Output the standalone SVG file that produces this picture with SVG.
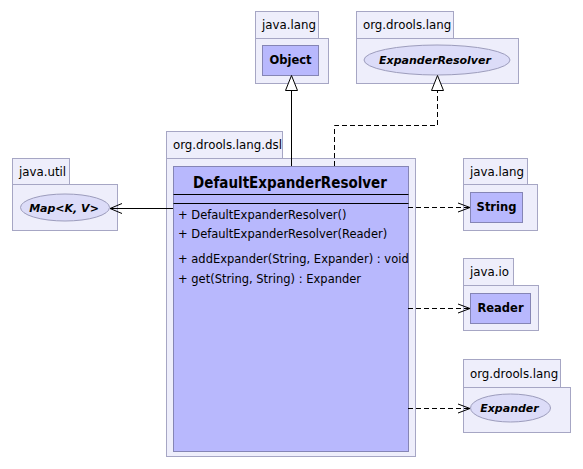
<svg xmlns="http://www.w3.org/2000/svg" width="583" height="469" viewBox="0 0 583 469">
<defs>
<style>
.pkg{fill:#eeeefb;stroke:#a6a6c4;stroke-width:1}
.cls{fill:#b8b8fd;stroke:#8585b5;stroke-width:1}
.ifc{fill:#dcdcf8;stroke:#9c9cbc;stroke-width:1}
.plabel{font-family:"DejaVu Sans",sans-serif;font-size:11.8px;fill:#000}
.cname{font-family:"DejaVu Sans",sans-serif;font-size:11.5px;font-weight:bold;fill:#000;text-anchor:middle}
.iname{font-family:"DejaVu Sans",sans-serif;font-size:11px;font-weight:bold;font-style:italic;fill:#000;text-anchor:middle}
.title{font-family:"DejaVu Sans",sans-serif;font-size:15px;font-stretch:condensed;font-weight:bold;fill:#000;text-anchor:middle}
.member{font-family:"DejaVu Sans",sans-serif;font-size:11.5px;fill:#000}
.line{fill:none;stroke:#000;stroke-width:1}
.dash{fill:none;stroke:#000;stroke-width:1;stroke-dasharray:5,3}
</style>
</defs>

<g id="pkg-java-lang-object">
<rect class="pkg" x="255.5" y="11.5" width="63" height="27"/>
<rect class="pkg" x="255.5" y="38.5" width="73" height="45"/>
<text class="plabel" x="262" y="29">java.lang</text>
</g>
<g id="Object">
<rect class="cls" x="262.5" y="45.5" width="56" height="30"/>
<text class="cname" x="290.5" y="64">Object</text>
</g>

<g id="pkg-org-drools-lang-resolver">
<rect class="pkg" x="356.5" y="11.5" width="97" height="27"/>
<rect class="pkg" x="356.5" y="38.5" width="162" height="45"/>
<text class="plabel" x="363" y="29">org.drools.lang</text>
</g>
<g id="ExpanderResolver">
<ellipse class="ifc" cx="437" cy="60" rx="73" ry="15"/>
<text class="iname" x="435" y="64">ExpanderResolver</text>
</g>

<g id="pkg-org-drools-lang-dsl">
<rect class="pkg" x="166.5" y="131.5" width="116" height="27"/>
<rect class="pkg" x="166.5" y="158.5" width="249" height="298"/>
<text class="plabel" x="173" y="149">org.drools.lang.dsl</text>
</g>
<g id="DefaultExpanderResolver">
<rect class="cls" x="173.5" y="166.5" width="235" height="285"/>
<text class="title" x="290" y="188">DefaultExpanderResolver</text>
<line class="line" x1="173.5" y1="194.5" x2="408.5" y2="194.5"/>
<line class="line" x1="173.5" y1="203.5" x2="408.5" y2="203.5"/>
<text class="member" x="178" y="219">+ DefaultExpanderResolver()</text>
<text class="member" x="178" y="238">+ DefaultExpanderResolver(Reader)</text>
<text class="member" x="178" y="263">+ addExpander(String, Expander) : void</text>
<text class="member" x="178" y="283">+ get(String, String) : Expander</text>
</g>

<g id="pkg-java-util">
<rect class="pkg" x="12.5" y="158.5" width="57" height="26"/>
<rect class="pkg" x="12.5" y="184.5" width="105" height="46"/>
<text class="plabel" x="19" y="176">java.util</text>
</g>
<g id="Map">
<ellipse class="ifc" cx="65" cy="207.5" rx="44.5" ry="13.5"/>
<text class="iname" x="64" y="211.5">Map&lt;K, V&gt;</text>
</g>

<g id="pkg-java-lang-string">
<rect class="pkg" x="463.5" y="158.5" width="64" height="26"/>
<rect class="pkg" x="463.5" y="184.5" width="74" height="46"/>
<text class="plabel" x="470" y="176">java.lang</text>
</g>
<g id="String">
<rect class="cls" x="470.5" y="192.5" width="52" height="30"/>
<text class="cname" x="496.5" y="211">String</text>
</g>

<g id="pkg-java-io">
<rect class="pkg" x="463.5" y="258.5" width="50" height="27"/>
<rect class="pkg" x="463.5" y="285.5" width="75" height="45"/>
<text class="plabel" x="470" y="276">java.io</text>
</g>
<g id="Reader">
<rect class="cls" x="470.5" y="293.5" width="60" height="30"/>
<text class="cname" x="500.5" y="312">Reader</text>
</g>

<g id="pkg-org-drools-lang-expander">
<rect class="pkg" x="463.5" y="359.5" width="97" height="28"/>
<rect class="pkg" x="463.5" y="387.5" width="107" height="45"/>
<text class="plabel" x="470" y="378">org.drools.lang</text>
</g>
<g id="Expander">
<ellipse class="ifc" cx="510.5" cy="408" rx="40" ry="14"/>
<text class="iname" x="509.5" y="412">Expander</text>
</g>

<g id="connectors">
<line class="line" x1="291.5" y1="166" x2="291.5" y2="90"/>
<path d="M285.5,90.5 L297.5,90.5 L291.5,75.5 Z" fill="#fff" stroke="#000"/>
<path class="dash" d="M334.5,166 L334.5,125.5 L437.5,125.5 L437.5,90"/>
<path d="M431.5,90.5 L443.5,90.5 L437.5,75.5 Z" fill="#fff" stroke="#000"/>
<line class="line" x1="173" y1="208.5" x2="110" y2="208.5"/>
<path class="line" d="M122,203.5 L110,208.5 L122,213.5"/>
<line class="dash" x1="408" y1="207.5" x2="470" y2="207.5"/>
<path class="line" d="M458,203 L470,207.5 L458,212"/>
<line class="dash" x1="408" y1="308.5" x2="470" y2="308.5"/>
<path class="line" d="M458,304 L470,308.5 L458,313"/>
<line class="dash" x1="408" y1="408.5" x2="470" y2="408.5"/>
<path class="line" d="M458,404 L470,408.5 L458,413"/>
</g>
</svg>
